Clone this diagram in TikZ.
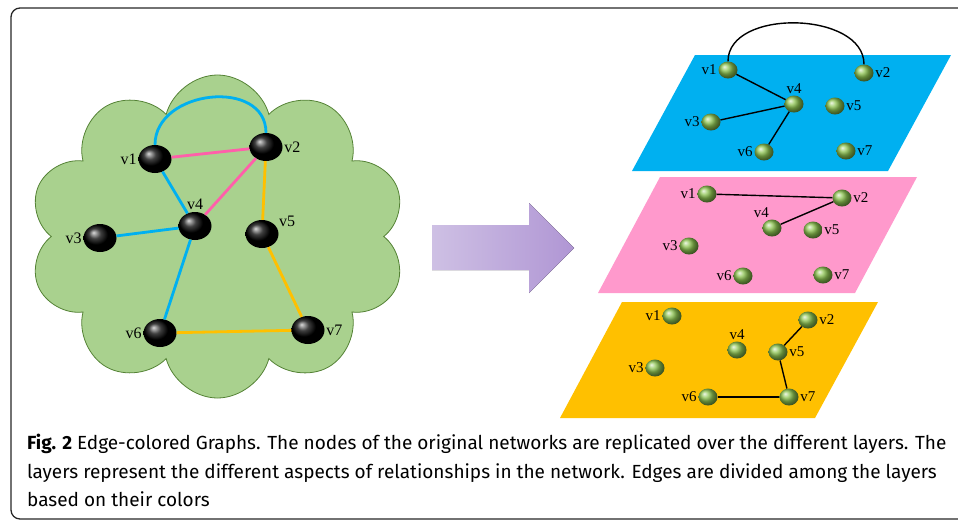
\documentclass[tikz,border=0pt]{standalone}
\usepackage{fontspec}
\setmainfont{Liberation Serif}
\newfontfamily\capfont{Fira Sans}
\usetikzlibrary{positioning, shapes.geometric, shapes.symbols}

\definecolor{cloudgreen}{RGB}{169,209,142}
\definecolor{cloudline}{RGB}{84,130,53}
\definecolor{ballgreen}{RGB}{140,195,80}
\definecolor{edgeblue}{RGB}{0,176,240}
\definecolor{edgepink}{RGB}{255,95,170}
\definecolor{edgeorange}{RGB}{255,192,0}
\definecolor{layerblue}{RGB}{0,176,240}
\definecolor{layerpink}{RGB}{255,153,204}
\definecolor{layerorange}{RGB}{255,192,0}
\definecolor{arrowl}{RGB}{206,192,228}
\definecolor{arrowr}{RGB}{176,150,212}

\begin{document}
\begin{tikzpicture}[x=1pt,y=-1pt]

	\tikzstyle{every node}=[font=\fontsize{16}{16}\selectfont]
	\tikzstyle{blackball}=[ellipse, minimum width=33pt, minimum height=28pt, inner sep=0pt, shading=ball, ball color=black]
	\tikzstyle{greenball}=[ellipse, minimum width=19pt, minimum height=17pt, inner sep=0pt, shading=ball, ball color=ballgreen]
	\tikzstyle{lab}=[inner sep=1.5pt, font=\fontsize{15}{15}\selectfont]
	\tikzstyle{biglab}=[inner sep=1.5pt, font=\fontsize{16}{16}\selectfont]
	\tikzstyle{capline}=[anchor=base west, inner sep=0pt, font=\capfont\fontsize{19}{19}\selectfont]

	\useasboundingbox (0,0) rectangle (958,520);
	\draw[rounded corners=9pt, line width=1.3pt, black!85] (11,8) rectangle (1000,519);

	% original network
	\node[cloud, cloud puffs=10, cloud ignores aspect, shape border rotate=18, draw=cloudline, fill=cloudgreen, minimum width=377pt, minimum height=323pt, line width=0.8pt] (cloud) at (217.5,236.5) {};

	\node[blackball, label={[biglab]left:v1}]  (a1) at (155,159) {};
	\node[blackball, label={[biglab]right:v2}] (a2) at (266,147) {};
	\node[blackball, label={[biglab]left:v3}]  (a3) at (100,238) {};
	\node[blackball, label={[biglab]above:v4}] (a4) at (195,226) {};
	\node[blackball, label={[biglab]20:v5}]    (a5) at (262,234) {};
	\node[blackball, label={[biglab]left:v6}]  (a6) at (160,333) {};
	\node[blackball, label={[biglab]right:v7}] (a7) at (308,330) {};

	\tikzstyle{edge} = [line width=2.8pt]
	\draw[edge, edgeblue] (a1.north) to[out=90, in=90, looseness=1.27] (a2.north);
	\draw[edge, edgeblue] (a1) -- (a4);
	\draw[edge, edgeblue] (a4) -- (a3);
	\draw[edge, edgeblue] (a4) -- (a6);
	\draw[edge, edgepink] (a1) -- (a2);
	\draw[edge, edgepink] (a2) -- (a4);
	\draw[edge, edgeorange] (a2) -- (a5);
	\draw[edge, edgeorange] (a5) -- (a7);
	\draw[edge, edgeorange] (a6) -- (a7);

	% arrow
	\fill[left color=arrowl, right color=arrowr] (432,225) -- (529,225) -- (529,203) -- (574,248) -- (529,293) -- (529,270) -- (432,270) -- cycle;

	% layers
	\fill[layerblue]   (695,55)  -- (951,55)  -- (888,171) -- (632,171) -- cycle;
	\fill[layerpink]   (660,177) -- (917,177) -- (855,293) -- (598,293) -- cycle;
	\fill[layerorange] (622,302) -- (878,302) -- (815,418) -- (560,418) -- cycle;

	\node[greenball, label={[lab]left:v1}]  (b1) at (728,70)  {};
	\node[greenball, label={[lab]right:v2}] (b2) at (864,73)  {};
	\node[greenball, label={[lab]left:v3}]  (b3) at (711,122) {};
	\node[greenball, label={[lab]above:v4}] (b4) at (794,104) {};
	\node[greenball, label={[lab]right:v5}] (b5) at (835,106) {};
	\node[greenball, label={[lab]left:v6}]  (b6) at (764,152) {};
	\node[greenball, label={[lab]right:v7}] (b7) at (846,151) {};

	\node[greenball, label={[lab]left:v1}]  (p1) at (707,194) {};
	\node[greenball, label={[lab]right:v2}] (p2) at (842,198) {};
	\node[greenball, label={[lab]left:v3}]  (p3) at (689,246) {};
	\node[greenball, label={[lab]100:v4}]   (p4) at (772,228) {};
	\node[greenball, label={[lab]right:v5}] (p5) at (813,230) {};
	\node[greenball, label={[lab]left:v6}]  (p6) at (743,276) {};
	\node[greenball, label={[lab]right:v7}] (p7) at (823,275) {};

	\node[greenball, label={[lab]left:v1}]  (o1) at (672,316) {};
	\node[greenball, label={[lab]right:v2}] (o2) at (808,320) {};
	\node[greenball, label={[lab]left:v3}]  (o3) at (655,368) {};
	\node[greenball, label={[lab]above:v4}] (o4) at (737,350) {};
	\node[greenball, label={[lab]right:v5}] (o5) at (778,352) {};
	\node[greenball, label={[lab]left:v6}]  (o6) at (708,397) {};
	\node[greenball, label={[lab]right:v7}] (o7) at (789,397) {};

	\tikzstyle{link} = [line width=1.4pt, black]
	\draw[link] (b1.north) to[out=90, in=90] (b2.north);
	\draw[link] (b1) -- (b4);
	\draw[link] (b4) -- (b3);
	\draw[link] (b4) -- (b6);
	\draw[link] (p1) -- (p2);
	\draw[link] (p2) -- (p4);
	\draw[link] (o2) -- (o5);
	\draw[link] (o5) -- (o7);
	\draw[link] (o7) -- (o6);

	% caption
	\node[capline] (cap1) at (27,449) {\textbf{Fig. 2} Edge-colored Graphs. The nodes of the original networks are replicated over the different layers. The};
	\node[capline] (cap2) at (27,478) {layers represent the different aspects of relationships in the network. Edges are divided among the layers};
	\node[capline] (cap3) at (27,506) {based on their colors};

\end{tikzpicture}
\end{document}
